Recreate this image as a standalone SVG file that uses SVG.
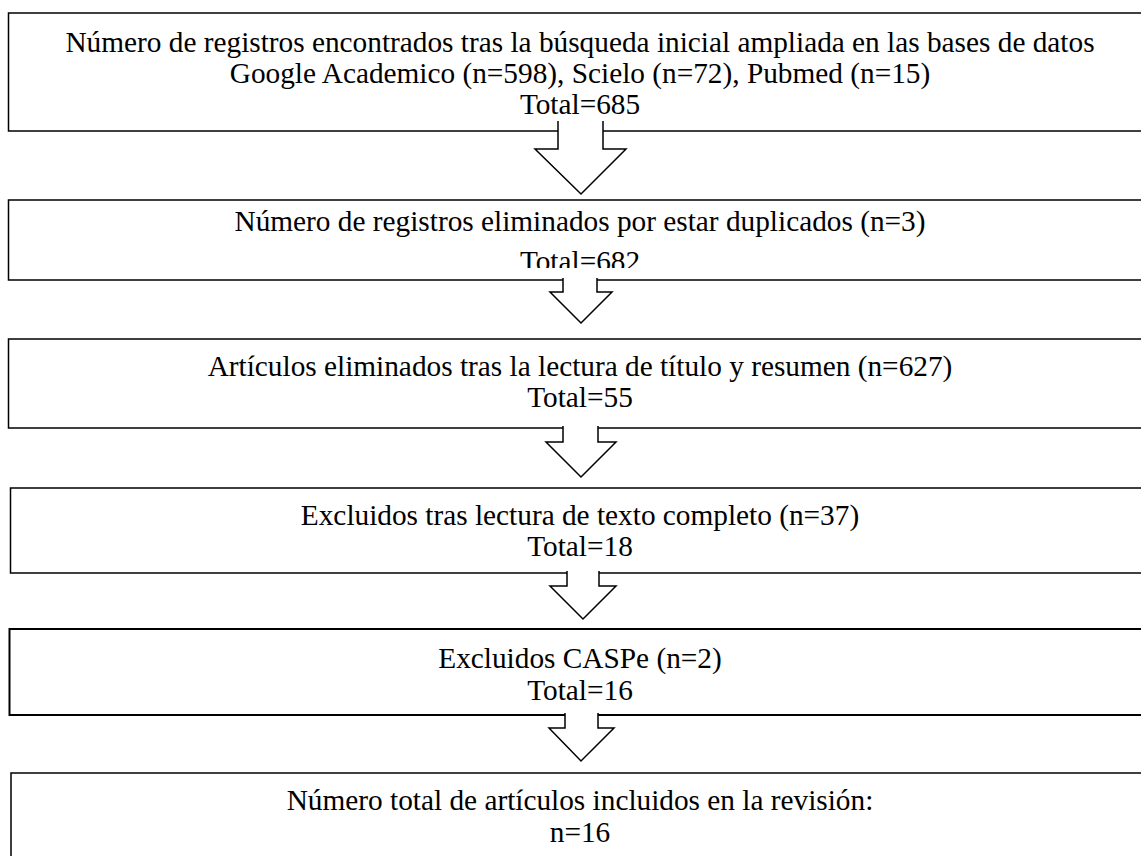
<svg xmlns="http://www.w3.org/2000/svg" width="1141" height="856" viewBox="0 0 1141 856">
<style>
.box{fill:#fff;stroke:#000;stroke-width:1.5}
.arr{fill:#fff;stroke:#000;stroke-width:1.5;stroke-linejoin:miter}
text{font-family:"Liberation Serif","Times New Roman",serif;font-size:29.3px;fill:#000;text-anchor:middle}
</style>
<defs>
<clipPath id="clip2"><rect x="0" y="195" width="1141" height="73"/></clipPath>
</defs>
<rect width="1141" height="856" fill="#fff"/>
<g id="n1">
<rect class="box" x="8.5" y="13" width="1160" height="118"/>
<text x="580" y="52">Número de registros encontrados tras la búsqueda inicial ampliada en las bases de datos</text>
<text x="580" y="83">Google Academico (n=598), Scielo (n=72), Pubmed (n=15)</text>
<text x="580" y="114">Total=685</text>
</g>
<g id="n2">
<rect class="box" x="8.5" y="200" width="1160" height="80"/>
<g clip-path="url(#clip2)">
<text x="580" y="231">Número de registros eliminados por estar duplicados (n=3)</text>
<text x="580" y="271">Total=682</text>
</g>
</g>
<g id="n3">
<rect class="box" x="8.5" y="339" width="1160" height="89"/>
<text x="580" y="376">Artículos eliminados tras la lectura de título y resumen (n=627)</text>
<text x="580" y="407">Total=55</text>
</g>
<g id="n4">
<rect class="box" x="10.5" y="488" width="1160" height="85"/>
<text x="580" y="525">Excluidos tras lectura de texto completo (n=37)</text>
<text x="580" y="556">Total=18</text>
</g>
<g id="n5">
<rect class="box" x="9.5" y="629" width="1160" height="86" style="stroke-width:2"/>
<text x="580" y="668">Excluidos CASPe (n=2)</text>
<text x="580" y="700">Total=16</text>
</g>
<g id="n6">
<rect class="box" x="11" y="773" width="1160" height="120"/>
<text x="580" y="810">Número total de artículos incluidos en la revisión:</text>
<text x="580" y="842">n=16</text>
</g>
<g id="connectors">
<path class="arr" d="M558,121 V149 H535 L581,194 L626,149 H603 V121"/>
<path class="arr" d="M563,278 V292 H550 L581,323 L612,292 H597 V278"/>
<path class="arr" d="M563,426 V442 H546 L581,477 L616,442 H598 V426"/>
<path class="arr" d="M567,571 V586 H550 L583,619 L616,586 H599 V571"/>
<path class="arr" d="M565,713 V728 H549 L581,761 L614,728 H598 V713"/>
</g>
</svg>
